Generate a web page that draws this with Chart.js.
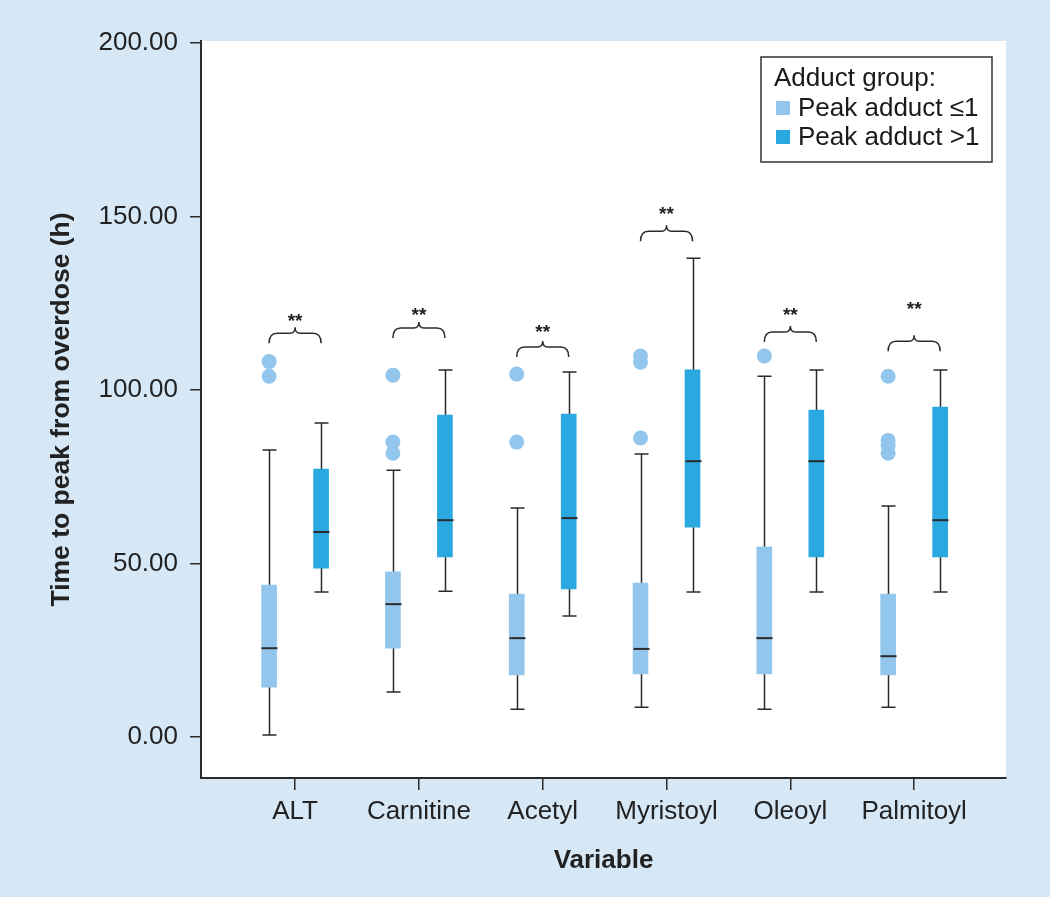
<!DOCTYPE html>
<html>
<head>
<meta charset="utf-8">
<script src="https://cdn.jsdelivr.net/npm/chart.js@4.4.1/dist/chart.umd.min.js"></script>
<style>
  body { margin: 0; background: #d6e7f6; }
  #wrap { width: 1050px; height: 897px; position: relative; }
</style>
</head>
<body>
<div id="wrap"><canvas id="chart"></canvas></div>
<script>
const categories = ['ALT', 'Carnitine', 'Acetyl', 'Myristoyl', 'Oleoyl', 'Palmitoyl'];
const yTickValues = [0, 50, 100, 150, 200];

// Peak adduct <=1
const lowMin = [0.6, 13, 8, 8.6, 8, 8.6];
const lowQ1 = [14.4, 25.6, 17.9, 18.2, 18.2, 17.9];
const lowMed = [25.6, 38.3, 28.5, 25.4, 28.5, 23.3];
const lowQ3 = [43.8, 47.6, 41.2, 44.4, 54.8, 41.2];
const lowMax = [82.7, 76.9, 66, 81.6, 104, 66.6];
const lowOutliers = [[104, 108.2], [81.8, 85, 104.3], [85, 104.6], [86.2, 108, 109.8], [109.8], [81.8, 84, 85.5, 104]];

// Peak adduct >1
const highMin = [41.8, 42, 34.9, 41.8, 41.8, 41.8];
const highQ1 = [48.7, 51.9, 42.7, 60.5, 51.9, 51.9];
const highMed = [59.1, 62.5, 63.1, 79.5, 79.5, 62.5];
const highQ3 = [77.2, 92.8, 93.1, 105.8, 94.2, 95.1];
const highMax = [90.5, 105.8, 105.2, 138, 105.8, 105.8];

// significance brackets
const bracketLevel = [116.4, 117.9, 112.4, 145.8, 116.7, 114.1];
const starLevel = [120.5, 122.2, 117.3, 151.3, 122.2, 123.9];
const starText = ['**', '**', '**', '**', '**', '**'];

const FONT = "'Liberation Sans', Arial, Helvetica, sans-serif";
const LIGHT = '#93c6ec';
const DARK = '#29a9e0';
const INK = '#2b2b2b';
const OFF = 0.21;

const groups = [
    {label: 'Peak adduct \u22641', color: LIGHT, off: -OFF, min: lowMin, q1: lowQ1, med: lowMed, q3: lowQ3, max: lowMax},
    {label: 'Peak adduct >1', color: DARK, off: OFF, min: highMin, q1: highQ1, med: highMed, q3: highQ3, max: highMax}
];

const boxExtras = {
    id: 'boxExtras',
    beforeDraw(chart) {
        const {ctx, chartArea: a} = chart;
        ctx.save();
        ctx.fillStyle = '#d6e7f6';
        ctx.fillRect(0, 0, chart.width, chart.height);
        ctx.fillStyle = '#ffffff';
        ctx.fillRect(a.left, a.top, a.right - a.left, a.bottom - a.top);
        ctx.restore();
    },
    beforeDatasetsDraw(chart) {
        const {ctx, scales: {x, y}} = chart;
        ctx.save();
        ctx.strokeStyle = INK;
        ctx.lineWidth = 1.5;
        groups.forEach(g => {
            categories.forEach((c, i) => {
                const px = Math.round(x.getPixelForValue(i + g.off)) + 0.5;
                const yl = y.getPixelForValue(g.min[i]);
                const yh = y.getPixelForValue(g.max[i]);
                ctx.beginPath();
                ctx.moveTo(px, yl);
                ctx.lineTo(px, yh);
                ctx.moveTo(px - 7, yl);
                ctx.lineTo(px + 7, yl);
                ctx.moveTo(px - 7, yh);
                ctx.lineTo(px + 7, yh);
                ctx.stroke();
            });
        });
        ctx.restore();
    },
    afterDatasetsDraw(chart) {
        const {ctx, scales: {x, y}, chartArea} = chart;
        ctx.save();
        // medians
        ctx.strokeStyle = INK;
        ctx.lineWidth = 2;
        groups.forEach(g => {
            categories.forEach((c, i) => {
                const px = Math.round(x.getPixelForValue(i + g.off)) + 0.5;
                const ym = y.getPixelForValue(g.med[i]);
                ctx.beginPath();
                ctx.moveTo(px - 8, ym);
                ctx.lineTo(px + 8, ym);
                ctx.stroke();
            });
        });
        // brackets
        ctx.lineWidth = 1.5;
        categories.forEach((c, i) => {
            const x1 = x.getPixelForValue(i - OFF);
            const x2 = x.getPixelForValue(i + OFF);
            const xm = (x1 + x2) / 2;
            const yb = y.getPixelForValue(bracketLevel[i]);
            ctx.beginPath();
            ctx.moveTo(x1, yb + 10);
            ctx.quadraticCurveTo(x1, yb, x1 + 8, yb);
            ctx.lineTo(xm - 5, yb);
            ctx.quadraticCurveTo(xm, yb, xm, yb - 6);
            ctx.quadraticCurveTo(xm, yb, xm + 5, yb);
            ctx.lineTo(x2 - 8, yb);
            ctx.quadraticCurveTo(x2, yb, x2, yb + 10);
            ctx.stroke();
            ctx.fillStyle = '#222';
            ctx.font = 'bold 19px ' + FONT;
            ctx.textAlign = 'center';
            ctx.textBaseline = 'middle';
            ctx.fillText(starText[i], xm, y.getPixelForValue(starLevel[i]) + 3);
        });
        // legend
        const lx = chartArea.right - 245, ly = chartArea.top + 16, lw = 231, lh = 105;
        ctx.fillStyle = '#ffffff';
        ctx.fillRect(lx, ly, lw, lh);
        ctx.strokeStyle = '#333';
        ctx.lineWidth = 1.5;
        ctx.strokeRect(lx, ly, lw, lh);
        ctx.fillStyle = '#1a1a1a';
        ctx.font = '26px ' + FONT;
        ctx.textAlign = 'left';
        ctx.textBaseline = 'alphabetic';
        ctx.fillText('Adduct group:', lx + 13, ly + 29);
        groups.forEach((g, k) => {
            const rowY = ly + 59 + k * 29;
            ctx.fillStyle = g.color;
            ctx.fillRect(lx + 15, rowY - 15, 14, 14);
            ctx.fillStyle = '#1a1a1a';
            ctx.fillText(g.label, lx + 37, rowY);
        });
        ctx.restore();
    }
};

const datasets = groups.map(g => ({
    type: 'bar',
    label: g.label,
    data: categories.map((c, i) => ({x: i + g.off, y: [g.q1[i], g.q3[i]]})),
    backgroundColor: g.color,
    borderWidth: 0,
    barThickness: 15,
    grouped: false
}));

datasets.push({
    type: 'scatter',
    label: 'outliers',
    data: lowOutliers.flatMap((vals, i) => vals.map(v => ({x: i - OFF, y: v}))),
    backgroundColor: LIGHT,
    borderWidth: 0,
    pointRadius: 7.5,
    pointHoverRadius: 7.5
});

new Chart(document.getElementById('chart'), {
    type: 'bar',
    data: {datasets: datasets},
    options: {
        responsive: true,
        maintainAspectRatio: false,
        animation: false,
        layout: {padding: {top: 41, right: 44, left: 0, bottom: 0}},
        plugins: {legend: {display: false}, tooltip: {enabled: false}},
        scales: {
            x: {
                type: 'linear',
                offset: false,
                min: -0.76,
                max: 5.742,
                afterBuildTicks: s => { s.ticks = categories.map((c, i) => ({value: i})); },
                afterFit: s => { s.height = 119; },
                ticks: {
                    callback: v => categories[v],
                    font: {size: 26, family: FONT},
                    color: '#222',
                    padding: 6,
                    autoSkip: false,
                    maxRotation: 0
                },
                grid: {offset: false, drawOnChartArea: false, drawTicks: true, tickLength: 12, color: INK, lineWidth: 1.5},
                border: {display: true, color: INK, width: 2},
                title: {
                    display: true,
                    text: 'Variable',
                    font: {size: 26, weight: 'bold', family: FONT},
                    color: '#222',
                    padding: {top: 0, bottom: 21}
                }
            },
            y: {
                min: -11.8,
                max: 200.6,
                afterBuildTicks: s => { s.ticks = yTickValues.map(v => ({value: v})); },
                afterFit: s => { s.width = 201; },
                ticks: {
                    callback: v => v.toFixed(2),
                    font: {size: 26, family: FONT},
                    color: '#222',
                    padding: 12
                },
                grid: {drawOnChartArea: false, drawTicks: true, tickLength: 11, color: INK, lineWidth: 1.5},
                border: {display: true, color: INK, width: 2},
                title: {
                    display: true,
                    text: 'Time to peak from overdose (h)',
                    font: {size: 26.5, weight: 'bold', family: FONT},
                    color: '#222',
                    padding: {top: 46, bottom: 0}
                }
            }
        }
    },
    plugins: [boxExtras]
});
</script>
</body>
</html>
